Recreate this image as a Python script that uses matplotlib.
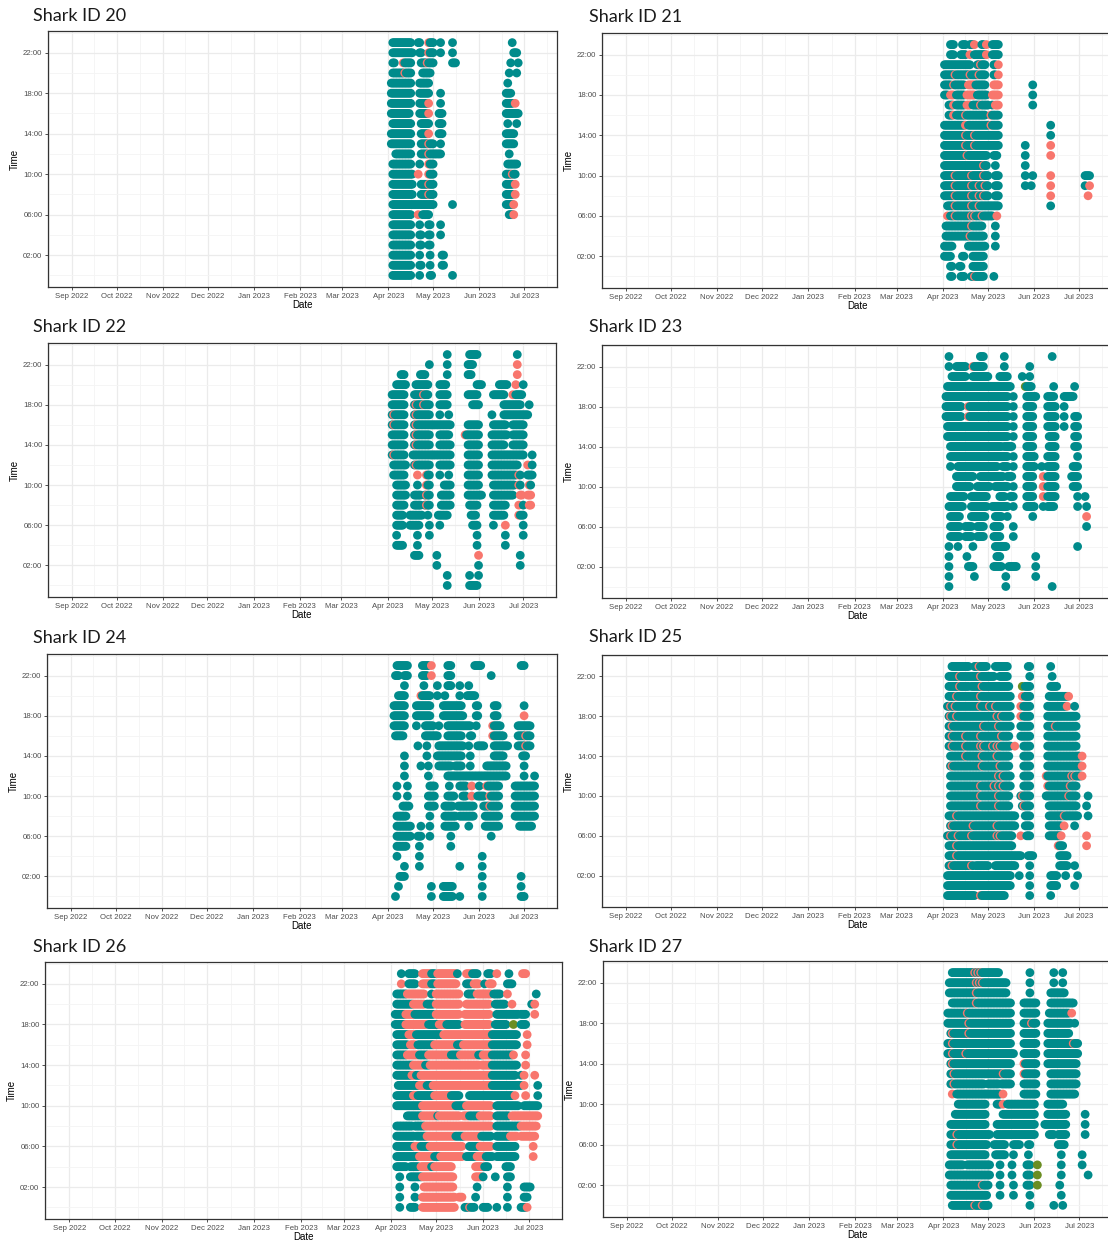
import numpy as np
import matplotlib
matplotlib.use("Agg")
import matplotlib.pyplot as plt
import matplotlib.dates as mdates

plt.rcParams["font.family"] = ["Liberation Sans", "DejaVu Sans"]

# ---------------- data (days after 2023-04-01, per hour of day) ----------------
DAY0 = "2023-04-01"
X_START, X_END = "2022-08-16", "2023-07-23"
MONTH_TICKS = ["2022-09-01", "2022-10-01", "2022-11-01", "2022-12-01", "2023-01-01", "2023-02-01",
               "2023-03-01", "2023-04-01", "2023-05-01", "2023-06-01", "2023-07-01"]
HOUR_TICKS = [2, 6, 10, 14, 18, 22]
HOUR_LABELS = ["02:00", "06:00", "10:00", "14:00", "18:00", "22:00"]
SHARK_IDS = [20, 21, 22, 23, 24, 25, 26, 27]

TEAL_20 = {23: "3-15 20-21 27-30 35 43 83", 22: "3-16 21-22 27-30 35 43 84-86",
           21: "3-4 10-15 22-30 43-45 82 87", 20: "3-15 23-28 81 86", 19: "2-15 21-27 80",
           18: "2-15 21-27 35 79-82", 17: "2-15 21-26 35 79-83", 16: "2-14 21-26 34-36 79-87",
           15: "3-15 22-27 34-36 80 86", 14: "2-15 22-26 34-36 79-84", 13: "2-15 22-30 35 79-84",
           12: "5-15 22-35 81", 11: "3-15 21 27-30 80-86", 10: "3-16 27-30 79-85",
           9: "3-16 22-30 79-83", 8: "3-16 22-30 79-83", 7: "3-30 43 79-83", 6: "3-15 23-27 81-83",
           5: "3-15 21 27-28 35", 4: "3-15 21-22 27-28 35", 3: "3-15 21-22 27-28",
           2: "3-15 21 28 36-37", 1: "3-15 21-22 28 36-37", 0: "3-15 21 28-29 43"}
RED_20 = {23: "27", 22: "27", 21: "10 26", 20: "11", 17: "27 85", 16: "27", 14: "27", 13: "27",
          12: "27", 11: "27", 10: "20 27 83", 9: "27 85", 8: "27 85", 7: "84", 6: "20 84"}
GREEN_20 = {}

TEAL_21 = {23: "5-7 13-15 18-20 26-27 33-37", 22: "5-7 12-15 21-28 33-37", 21: "1-18 23-28 34-35",
           20: "1-17 19-28 34-35", 19: "1-5 8-14 22-28 60", 18: "1-3 9-14 23-29 60",
           17: "4-6 9-14 20-24 26-30 33 60", 16: "4-6 9-14 16-28 33-37", 15: "1-14 17-30 33-37 72",
           14: "1-37 72", 13: "1-37 55", 12: "1-29 34-36 55", 11: "1-29 35 55",
           10: "1-30 35-37 55 60 95-98", 9: "1-30 35-37 55 59 95", 8: "1-30 35-37", 7: "3-37 72",
           6: "5-33", 5: "2-26 35", 4: "2-27 35", 3: "1-6 17-28 35", 2: "1-5 13-14 20-27",
           1: "5-6 11-12 20-27", 0: "5-6 12-14 19-27 34"}
RED_21 = {23: "21 29", 22: "18 29", 21: "25 37", 20: "8 18 24 37", 19: "7 17-21 34-37",
          18: "5-7 16-21 33-37", 17: "7 16-18 25 35-37", 16: "7 15 32", 15: "15 32", 14: "15 21",
          13: "15 21 72", 12: "16 72", 11: "27", 10: "8 19 27 72", 9: "8 19 24 28 72 98",
          8: "8 19 24 27 72 97", 7: "8 19 24", 6: "3 8 19 21 26 36", 5: "19", 4: "18", 0: "21"}
GREEN_21 = {}

TEAL_22 = {23: "40 55-60 87", 22: "28 40 54-57", 21: "9-11 22-25 40 54-56",
           20: "6-12 19-27 35-39 60-63 75-80 91", 19: "3-11 18-27 35-40 54-60 71-78 86-90",
           18: "3-11 18-28 35-40 57-61 78-89 95", 17: "3-11 18-28 35 41 70 78-94",
           16: "3-11 18-42 54-61 71-79 84-91", 15: "3-11 18-28 35-41 53-61 70-80 84-91",
           14: "3-11 18-28 35-42 54-61 70-78 84-91", 13: "3-11 17-42 54-61 70-91 97",
           12: "4-12 18-28 35-42 54-61 70-87 97", 11: "4-11 26-28 35 41 54-61 70-86 88-89 94-97",
           10: "6-12 20 26-28 38-42 54-61 71-85 88-89 95-96", 9: "6-12 18-22 25-28 36-42 54-63 71-84",
           8: "6-11 18-22 25-28 36-42 55-60 71-79 91", 7: "6-10 15-23 27 34-40 56-59 71-78 88-91",
           6: "6-10 15-21 28 35 57-60 71 91", 5: "6 20 28 60 79 91", 4: "6-10 20 60 79",
           3: "18-21 33 89", 2: "33 61 89", 1: "40 55 61", 0: "40 55-60"}
RED_22 = {22: "87", 21: "87", 20: "86", 19: "24 84", 18: "19 24", 17: "4 19", 16: "4 19",
          15: "19 52", 14: "19", 13: "4", 12: "19 94", 11: "20 26 88", 10: "26 88 95",
          9: "26 89-90 94-96", 8: "26 88 95-96", 7: "88", 6: "79", 3: "61"}
GREEN_22 = {}

TEAL_23 = {23: "4 25-27 41 73", 22: "4 9-15 20-27 41 58", 21: "6-15 20-30 38-43 53 58",
           20: "3-45 56-59 74 88", 19: "2-43 47 56-62 70-74 81-87", 18: "2-12 17-43 47 56-60 70-75 81",
           17: "2-12 17-43 47 56-60 70-75 81 88-90", 16: "3-43 47 56-60 70-75 81 88-90",
           15: "3-43 47 56-60 71-75 88-90", 14: "5-39 41-46 56-60 71-75 88-90",
           13: "5-43 47 56-61 70-75 90", 12: "5 10-36 40-43 47 56-61 66 70-75 87-90",
           11: "9-20 25-40 43-46 56-60 70-75 86-90", 10: "9-18 23-31 35-43 47 56-60 70-75 87-90",
           9: "5-14 19-29 38-41 45-47 56-60 70-75 90 95", 8: "4-13 19-29 33-43 47 56-61 67 70-74 90 96",
           7: "5-11 19-28 35-39 43 60", 6: "5-11 15-19 23-27 34-38 47 96", 5: "5-11 15-19 23-27 34-38 47",
           4: "4 10 20 35-42 90", 3: "4 16 36-38 62", 2: "4 17-20 34-39 44-49 62", 1: "4 21 42 62",
           0: "4 42 73"}
RED_23 = {22: "20", 18: "17", 17: "17", 11: "67", 10: "67", 9: "67", 7: "96"}
GREEN_23 = {20: "55"}

TEAL_24 = {23: "6-13 23-27 40-42 58-62 89-91", 22: "5-7 11-13 23-26 40-42 69", 21: "11 24 33 40-42 48 54",
           20: "7-11 22-28 33 38 48 53-58", 19: "4-11 19-28 37-49 59-60 71-73 91",
           18: "4-11 19-28 37-50 59-60 71-73", 17: "4-11 19 25-30 34 40-55 59 70-75 87-95",
           16: "5-10 25-33 40-49 55-56 70-77 87-95", 15: "20 26 34-50 54 60-64 71-80 87-95",
           14: "11 26 33-49 55 71-77 90-92", 13: "11 22 27 34-42 45-49 55 66-79 91",
           12: "11 27 40-79 91 98", 11: "6 13 28-31 41 48-52 61 66-74 85-98",
           10: "6 13 27-31 40-44 50-52 60-64 68-74 85-98", 9: "10-14 27-31 38-43 47-57 64-74 85-98",
           8: "6-12 28 38-45 48-57 65-74 85-98", 7: "6-15 22 28 38-45 54 65-74 88-96",
           6: "6-15 20-22 28 42 69", 5: "6-12 21 42", 4: "6 21 63", 3: "11 21 48 63", 2: "8-11 63 89",
           1: "7 29 37-43 63 89", 0: "5 29 37-43 48 63 89-91"}
RED_24 = {23: "29", 22: "29", 20: "22", 18: "91", 17: "70", 16: "70 92", 15: "92",
          11: "56 66", 10: "56 68", 9: "68"}
GREEN_24 = {}

TEAL_25 = {23: "6-17 21-29 35-43 57-58 72", 22: "4-17 18-34 38-43 58 73", 21: "4-17 19-44 55-58 72-76",
           20: "4-45 55-58 71-83", 19: "3-45 54-58 70-82 88", 18: "4-45 54-58 70-89",
           17: "4-45 52-58 70-89", 16: "4-44 52-58 70-89", 15: "4-45 54-58 70-89",
           14: "5-44 54-58 70-91", 13: "5-44 54-58 70-92", 12: "5-45 54-58 69-92",
           11: "5-45 54-58 70-89", 10: "5-44 52-58 69-89 97", 9: "5-44 53-58 71-89 96",
           8: "4-48 55-58 71-90 97", 7: "5-48 55-58 71-79 88", 6: "3-46 56-58 71-79",
           5: "4-46 77-80", 4: "4-52 57-60 78-83", 3: "4-20 22-30 35-48 58 78-83 88",
           2: "3-45 51 58 72-76 82 90", 1: "3-45 58 72-76 88", 0: "3-21 25-41 58 72"}
RED_25 = {23: "24", 22: "11 25", 21: "11 26", 20: "9 25 53 84", 19: "5 8 25 31 35 52 83",
          18: "5 9 36 39 52", 17: "6 27 37 75", 16: "6 15 25 39", 15: "6 15 25 27 33 36 38 48",
          14: "15 26 36 93", 13: "6 26 38 93", 12: "37 40 69 86 88 93", 11: "25 34 37 40 70 85",
          10: "25 37 53 84", 9: "25 37 54", 8: "9 81", 7: "6 20 36 81",
          6: "5 10 19 36 38 52 79 96", 5: "9 77 96", 4: "9", 3: "6 19", 0: "25"}
GREEN_25 = {21: "53"}

TEAL_26 = {23: "7 12-16 27-29 44 54-57 64-66 78", 22: "12-16 27-29 50-53 62 77-80",
           21: "4-10 27 51-55 68-72 96", 20: "4-14 24-28 69-75 93", 19: "3-9 16-28 70-84 86-89",
           18: "3-9 25-31 37-45 69-76 86-89", 17: "4-11 17-33 67-83", 16: "4-11 18-28 44-47 67-83",
           15: "4-10 19-24 40-45 58-60 67-80", 14: "4-14 23-25 67-83", 13: "4-13 17-19 67-82 86",
           12: "5-18 24-27 67-86 97", 11: "4-14 18-28 40-45 52-66 67-80 97", 10: "4-20 43-49 70-84 88-97",
           9: "11-20 31 52-58 70-78", 8: "4-14 16-22 70-85", 7: "4-15 17-23 43-48 60-66 70-78",
           6: "4-15 20-25 52-58 70-82", 5: "4-18 29-32 50-56 63-67 70-82", 4: "4-10 13-18 27-28 62-64 76-79",
           3: "6 13-20 61 69 77-79", 2: "6 16 27 57 77 88-92", 1: "6 16 27 30 56 77 88-90",
           0: "6 13-16 27 49-55 61-64 70 77 86-89"}
RED_26 = {23: "21-26 31-43 50-53 70 87-89", 22: "7 21-26 31-43 55-58 65-67", 21: "11-22 30-45 57-66 77",
          20: "15-22 30-45 50-65 80 95", 19: "10-15 30-45 49-65 95", 18: "10-23 32-36 49-65",
          17: "12-16 35-53 54-66 90", 16: "13-16 29-43 48-66 90", 15: "11-18 25-39 46-57 61-66 81 89",
          14: "15-22 26-58 60-66 89", 13: "14-16 20-66 88 95", 12: "19-23 28-66 88",
          11: "15-17 29-39 82 89", 10: "21-42 50-66", 9: "21-30 32-45 48-51 59-66 80-97",
          8: "23-66 86-96", 7: "24-42 49-59 79-83 86-95", 6: "16-19 26-47 59-66 94",
          5: "19-28 33-47 57-62 94", 4: "20-26 29-40 56-60", 3: "21-41 56-60", 2: "22-41",
          1: "21-42 45-47", 0: "21-42 52 90"}
GREEN_26 = {18: "81"}

TEAL_27 = {23: "6-37 58 74 80", 22: "4-42 58 74 80", 21: "4-42 58 72-81", 20: "6-45 54-62 72-87",
           19: "3-45 54-62 71-84", 18: "3-45 54-62 70-85 88", 17: "5-45 54-62 70-84",
           16: "3-45 54-62 70-90", 15: "3-47 54-62 70-90", 14: "5-45 54-62 70-89",
           13: "5-45 54-62 72-89", 12: "5-27 30-37 39-45 54-62 72-89", 11: "9-38 54-62 72-88",
           10: "10-28 36-38 43-61 70-80", 9: "8-28 40-61 70-82 95", 8: "5-28 36-61 68-82 95",
           7: "5-31 36-61 71-74 77-82 95", 6: "5-29 34-41 47-51 57-58 77-81", 5: "5-28 35-41 47 57 79 93",
           4: "4-13 16-31 38 46 56-58 79 93", 3: "4-31 38 46 56-58 79 97", 2: "5-30 38 47 56-58 78",
           1: "5-29 38 47 58 79", 0: "6-30 58 74 80"}
RED_27 = {23: "21 23 25", 22: "22 24 26", 21: "22", 20: "22", 19: "16 86", 18: "17 59", 17: "6 17",
          16: "6 87", 15: "6 15", 14: "6 54", 13: "7 40 54", 12: "7", 11: "6 40", 10: "40",
          7: "9", 6: "9", 2: "26", 0: "21 26"}
GREEN_27 = {4: "63", 3: "63", 2: "63"}

TEAL = {20: TEAL_20, 21: TEAL_21, 22: TEAL_22, 23: TEAL_23, 24: TEAL_24, 25: TEAL_25, 26: TEAL_26, 27: TEAL_27}
RED = {20: RED_20, 21: RED_21, 22: RED_22, 23: RED_23, 24: RED_24, 25: RED_25, 26: RED_26, 27: RED_27}
GREEN = {20: GREEN_20, 21: GREEN_21, 22: GREEN_22, 23: GREEN_23, 24: GREEN_24, 25: GREEN_25,
         26: GREEN_26, 27: GREEN_27}

# ---------------- layout / style ----------------
W, H = 1108, 1245
PANELS = {20: (48, 31, 557, 287), 21: (602, 33, 1112, 288),
          22: (48, 343, 556, 597), 23: (602, 345, 1112, 598),
          24: (47, 654, 557, 908), 25: (602, 655, 1112, 907),
          26: (45, 962, 562, 1219), 27: (603, 961, 1112, 1217)}
TITLE_POS = {20: (33, 16), 21: (589, 17), 22: (33, 327), 23: (589, 327),
             24: (33, 638), 25: (589, 637), 26: (33, 947), 27: (589, 947)}
COLORS = {"t": "#008B8B", "r": "#F8766D", "g": "#6B8E23"}


def parse(spec):
    days = []
    for tok in spec.split():
        if "-" in tok:
            a, b = map(int, tok.split("-"))
            days.extend(range(a, b + 1))
        else:
            days.append(int(tok))
    return days


fig = plt.figure(figsize=(W / 100, H / 100), dpi=100)
x0 = mdates.date2num(np.datetime64(DAY0))
xlim = (mdates.date2num(np.datetime64(X_START)), mdates.date2num(np.datetime64(X_END)))
major_x = [mdates.date2num(np.datetime64(m)) for m in MONTH_TICKS]
minor_x = [(a + b) / 2 for a, b in zip(major_x[:-1], major_x[1:])]
minor_x = [major_x[0] - 15.5] + minor_x + [major_x[-1] + 15.5]
month_labels = [np.datetime64(m).astype(object).strftime("%b %Y") for m in MONTH_TICKS]

for sid in SHARK_IDS:
    l, t, r, b = PANELS[sid]
    ax = fig.add_axes([l / W, 1 - b / H, (r - l) / W, (b - t) / H])
    pts = []
    for h in range(24):
        td = set(parse(TEAL[sid].get(h, "")))
        rd = set(parse(RED[sid].get(h, "")))
        gd = set(parse(GREEN[sid].get(h, "")))
        for d in td | rd | gd:
            c = "g" if d in gd else ("r" if d in rd else "t")
            pts.append((d, h, c))
    pts.sort(key=lambda p: (p[0], p[1]))
    xs = [x0 + p[0] for p in pts]
    ys = [p[1] for p in pts]
    cs = [COLORS[p[2]] for p in pts]
    ax.scatter(xs, ys, s=40, c=cs, linewidths=0, zorder=3)

    ax.set_xlim(*xlim)
    ax.set_ylim(-1.15, 24.15)
    ax.set_xticks(major_x)
    ax.set_xticklabels(month_labels)
    ax.set_xticks(minor_x, minor=True)
    ax.set_yticks(HOUR_TICKS)
    ax.set_yticklabels(HOUR_LABELS)
    ax.set_yticks([0, 4, 8, 12, 16, 20, 24], minor=True)
    ax.grid(which="major", color="#EBEBEB", lw=0.9, zorder=0)
    ax.grid(which="minor", color="#F4F4F4", lw=0.6, zorder=0)
    ax.set_axisbelow(True)
    ax.tick_params(which="major", length=2.5, width=0.6, color="#333333", labelsize=5.6,
                   labelcolor="#4D4D4D", pad=1.5)
    ax.tick_params(which="minor", length=0)
    for sp in ax.spines.values():
        sp.set_color("#333333")
        sp.set_linewidth(0.9)
    ax.set_xlabel("Date", fontsize=7, labelpad=0.5)
    ax.set_ylabel("Time", fontsize=7, labelpad=2)

    tx, ty = TITLE_POS[sid]
    fig.text(tx / W, 1 - ty / H, f"Shark ID {sid}", fontsize=13, family=["Lato", "DejaVu Sans"],
             ha="left", va="center", color="#1a1a1a")

fig.savefig("out.png", dpi=100, facecolor="white")
